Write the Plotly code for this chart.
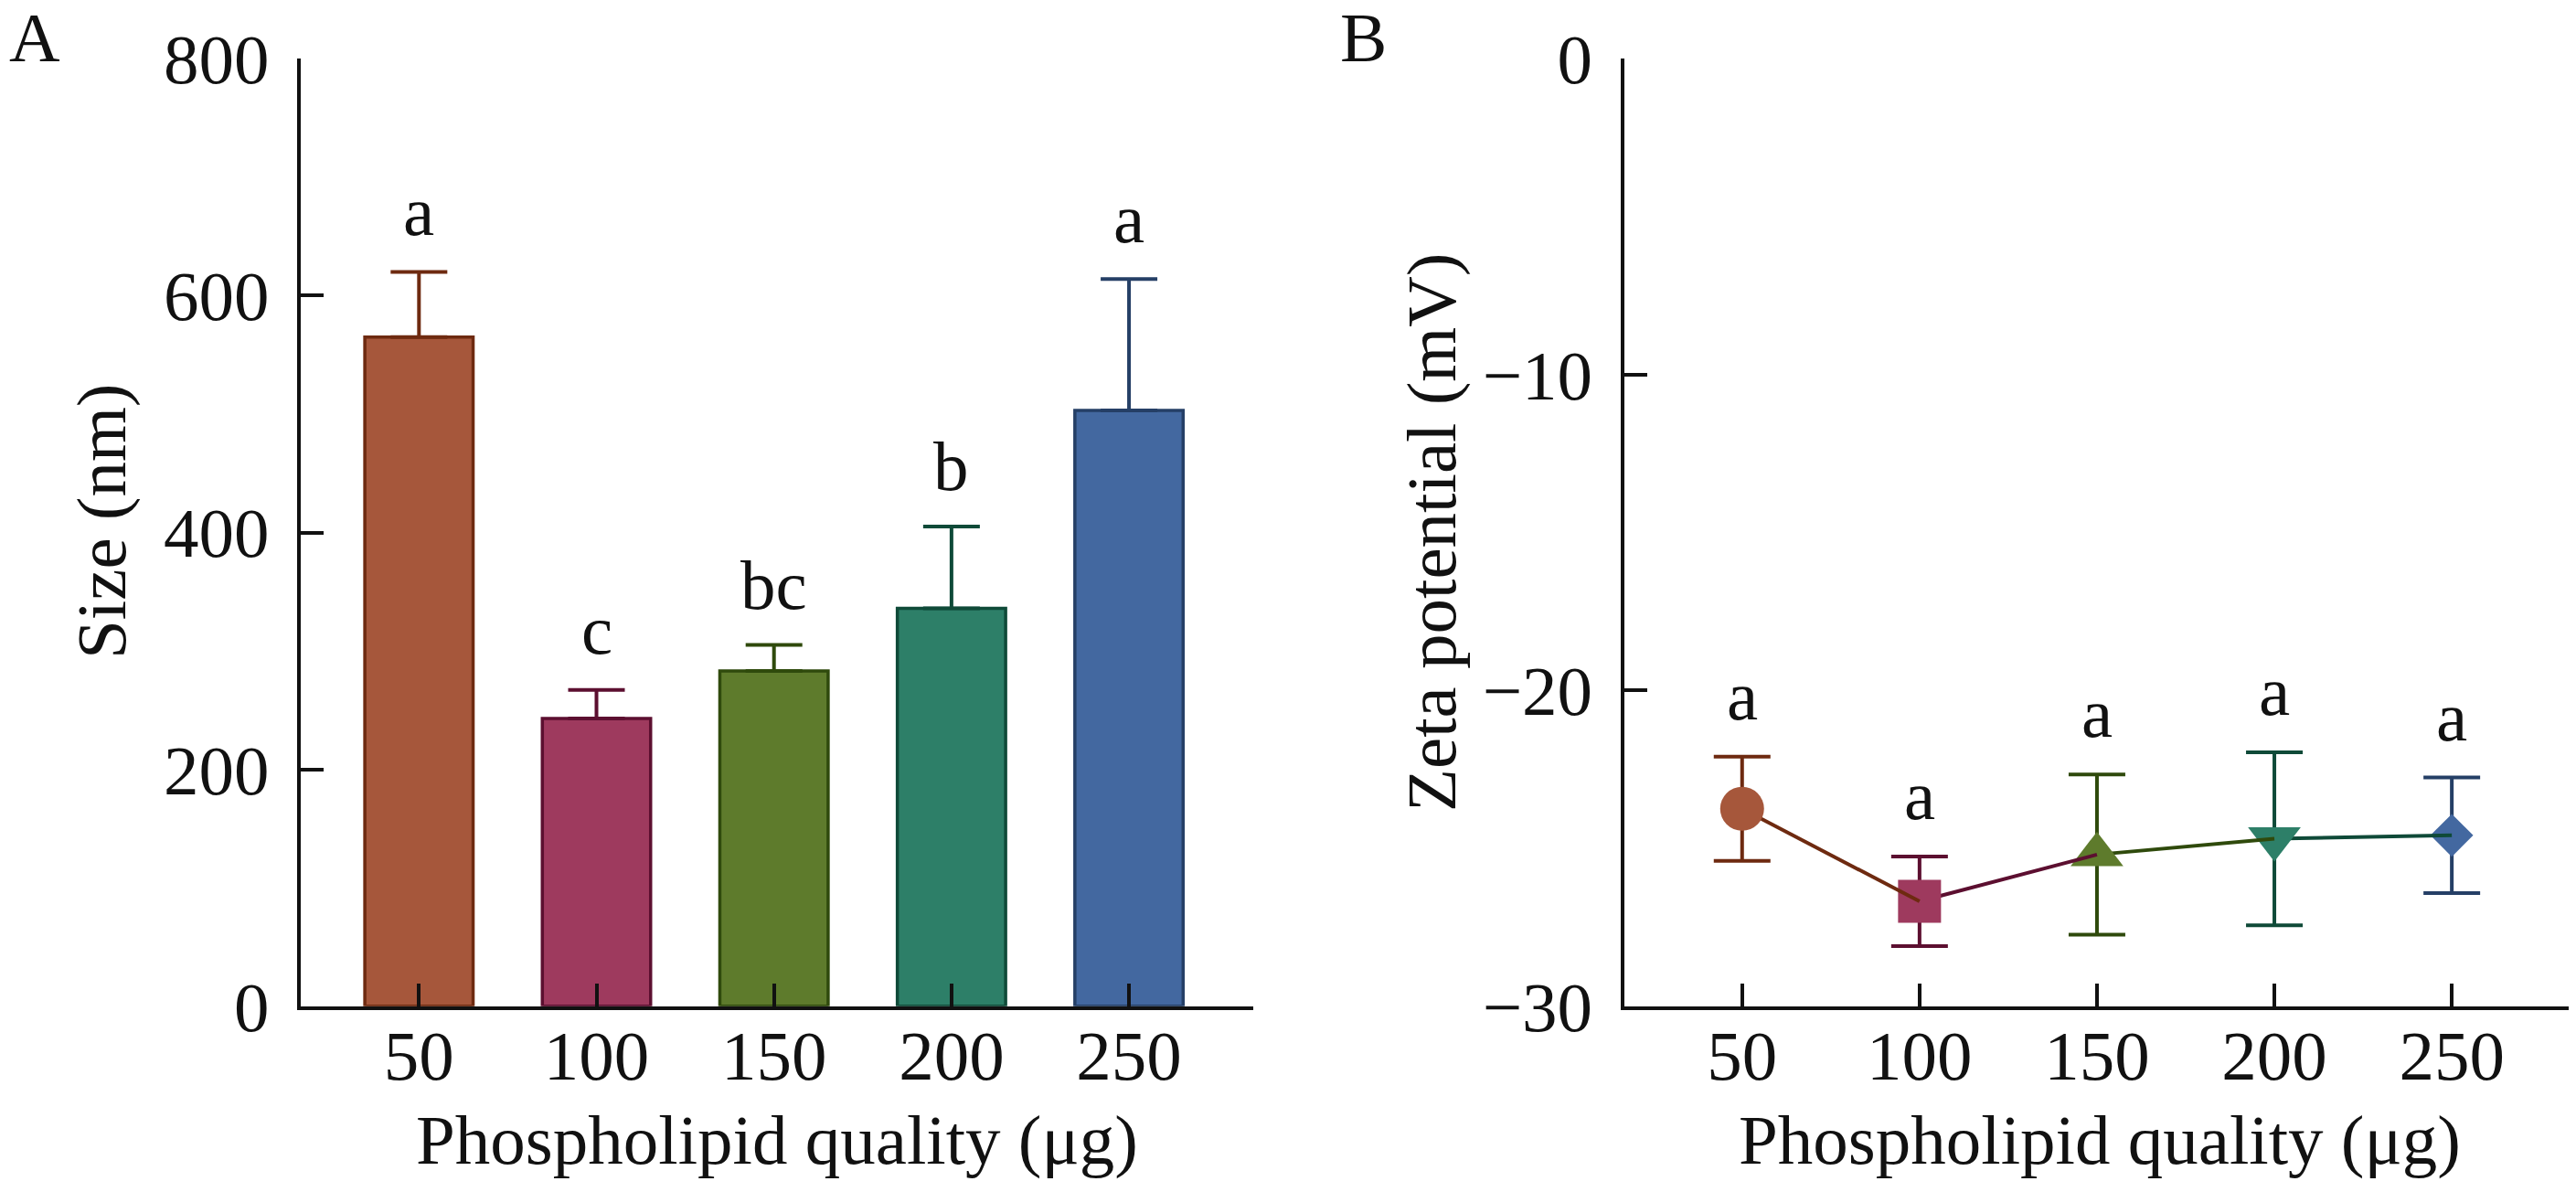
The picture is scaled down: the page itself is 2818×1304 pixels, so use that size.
import plotly.graph_objects as go

# data
doses = ["50", "100", "150", "200", "250"]

size_mean = [565, 243, 283, 336, 503]
size_err = [55, 24, 22, 69, 111]
size_letters = ["a", "c", "bc", "b", "a"]

zeta_mean = [-23.75, -26.68, -25.2, -24.7, -24.59]
zeta_err = [1.65, 1.42, 2.54, 2.74, 1.83]
zeta_letters = ["a", "a", "a", "a", "a"]

fill_colors = ["#A6573B", "#9E3A5E", "#5E7B2C", "#2D7F68", "#4368A0"]
dark_colors = ["#6E2A10", "#5C0F30", "#2F4A0C", "#0F4A38", "#253F66"]
symbols = ["circle", "square", "triangle-up", "triangle-down", "diamond"]
sym_sizes = [48, 47, 50, 50, 36]

FONT = "Liberation Serif"
FS = 77
INK = "#111111"

# the page body has an 8px margin, so the figure is a bit smaller than the window
W, H, OFF = 2810, 1296, 8


def px(x):
    return (x - OFF) / W


def py(y):
    return (1304 - y) / H


fig = go.Figure()

# panel A: bars with one-sided error bars
for i in range(len(doses)):
    fig.add_trace(go.Bar(
        x=[doses[i]], y=[size_mean[i]],
        width=0.61,
        marker=dict(color=fill_colors[i], line=dict(color=dark_colors[i], width=3.5)),
        error_y=dict(type="data", array=[size_err[i]], arrayminus=[0], symmetric=False,
                     color=dark_colors[i], thickness=4, width=31),
        xaxis="x", yaxis="y", showlegend=False,
    ))

# panel B: markers and coloured segments, drawn back to front
for i in range(len(doses) - 1, -1, -1):
    fig.add_trace(go.Scatter(
        x=[doses[i]], y=[zeta_mean[i]], mode="markers",
        marker=dict(symbol=symbols[i], size=sym_sizes[i], color=fill_colors[i],
                    line=dict(width=0)),
        error_y=dict(type="data", array=[zeta_err[i]], color=dark_colors[i],
                     thickness=4, width=31),
        xaxis="x2", yaxis="y2", showlegend=False,
    ))
    if i > 0:
        fig.add_trace(go.Scatter(
            x=[doses[i - 1], doses[i]], y=[zeta_mean[i - 1], zeta_mean[i]],
            mode="lines", line=dict(color=dark_colors[i - 1], width=4),
            xaxis="x2", yaxis="y2", showlegend=False,
        ))

font = dict(family=FONT, size=FS, color=INK)
annotations = []
for i in range(len(doses)):
    # category axes: annotation x given as category index
    annotations.append(dict(x=i, y=size_mean[i] + size_err[i], xref="x", yref="y",
                            text=size_letters[i], showarrow=False, yanchor="bottom",
                            yshift=21, font=font))
    annotations.append(dict(x=i, y=zeta_mean[i] + zeta_err[i], xref="x2", yref="y2",
                            text=zeta_letters[i], showarrow=False, yanchor="bottom",
                            yshift=22, font=font))

# panel letters
annotations.append(dict(x=0.0, y=py(86), xref="paper", yref="paper", text="A",
                        showarrow=False, xanchor="left", yanchor="bottom", font=font))
annotations.append(dict(x=px(1464), y=py(86), xref="paper", yref="paper", text="B",
                        showarrow=False, xanchor="left", yanchor="bottom", font=font))

# axis titles
xt = "Phospholipid quality (μg)"
annotations.append(dict(x=px(850), y=py(1292), xref="paper", yref="paper", text=xt,
                        showarrow=False, xanchor="center", yanchor="bottom", font=font))
annotations.append(dict(x=px(2297), y=py(1292), xref="paper", yref="paper", text=xt,
                        showarrow=False, xanchor="center", yanchor="bottom", font=font))
annotations.append(dict(x=px(111), y=py(570), xref="paper", yref="paper", text="Size (nm)",
                        textangle=-90, showarrow=False, xanchor="center", yanchor="middle",
                        font=font))
annotations.append(dict(x=px(1566), y=py(582), xref="paper", yref="paper",
                        text="Zeta potential (mV)", textangle=-90, showarrow=False,
                        xanchor="center", yanchor="middle", font=font))

axis_common = dict(showline=True, linewidth=4, linecolor=INK, ticks="inside", ticklen=25,
                   tickwidth=4, tickcolor=INK, showgrid=False, zeroline=False,
                   automargin=False, tickfont=font)

fig.update_layout(
    template="none",
    width=W, height=H,
    margin=dict(l=0, r=0, t=0, b=0, pad=0),
    paper_bgcolor="white", plot_bgcolor="white",
    barmode="overlay",
    annotations=annotations,
    xaxis=dict(axis_common, domain=[px(329), px(1371)], range=[-0.666, 4.70],
               type="category", categoryorder="array", categoryarray=doses,
               anchor="y", ticklabelstandoff=-16),
    yaxis=dict(axis_common, domain=[py(1100.7), py(64.3)], range=[0, 800], dtick=200,
               anchor="x", ticklabelstandoff=15),
    xaxis2=dict(axis_common, domain=[px(1776.5), 1.0], range=[-0.666, 4.70],
                type="category", categoryorder="array", categoryarray=doses,
                anchor="y2", ticklabelstandoff=-16),
    yaxis2=dict(axis_common, domain=[py(1100.7), py(64.3)], range=[-30, 0], dtick=10,
                anchor="x2", ticklabelstandoff=15),
)

fig.write_html("out.html")
